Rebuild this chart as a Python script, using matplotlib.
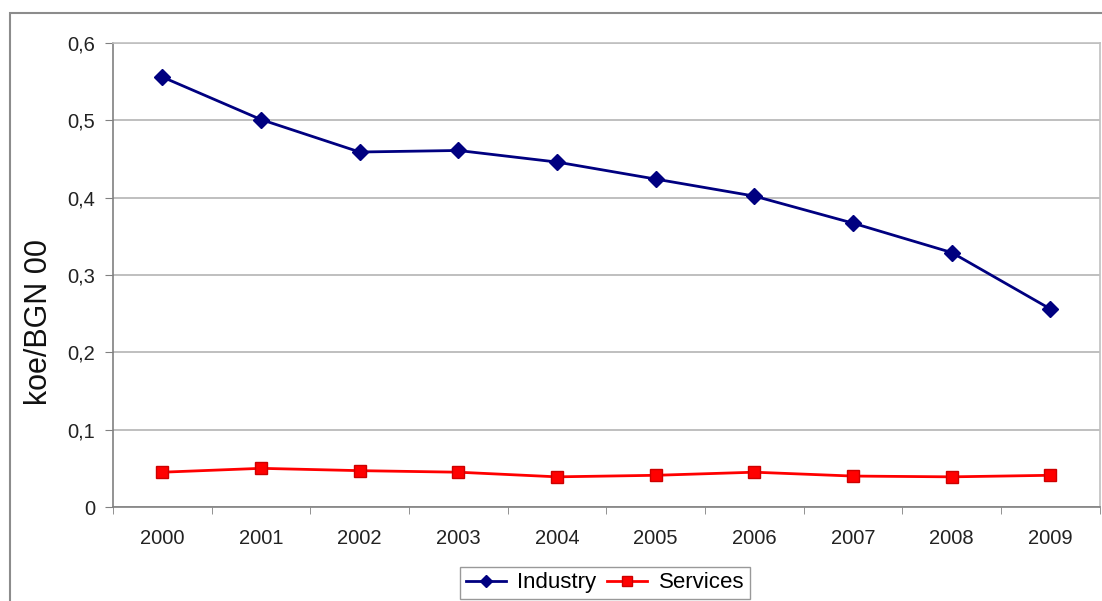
import matplotlib.pyplot as plt
from matplotlib.patches import Rectangle

plt.rcParams['font.family'] = ['Liberation Sans', 'DejaVu Sans']

years = ['2000', '2001', '2002', '2003', '2004', '2005', '2006', '2007', '2008', '2009']
industry = [0.556, 0.501, 0.459, 0.461, 0.446, 0.424, 0.402, 0.367, 0.329, 0.256]
services = [0.045, 0.050, 0.047, 0.045, 0.039, 0.041, 0.045, 0.040, 0.039, 0.041]
y_ticks = [0, 0.1, 0.2, 0.3, 0.4, 0.5, 0.6]
y_labels = ['0', '0,1', '0,2', '0,3', '0,4', '0,5', '0,6']

fig = plt.figure(figsize=(11.02, 6.01), dpi=100)
# outer chart border
fig.patches.append(Rectangle((10 / 1102, -0.1), 1.2, (601 - 13) / 601 + 0.1,
                             transform=fig.transFigure, fill=False,
                             edgecolor='#8c8c8c', linewidth=1.5))

ax = fig.add_axes([0.1025, 0.1564, 0.8955, 0.7721])
x = list(range(len(years)))

ax.plot(x, industry, color='#000080', linewidth=2, marker='D', markersize=8,
        markerfacecolor='#000080', markeredgecolor='#000080', label='Industry')
ax.plot(x, services, color='#ff0000', linewidth=2, marker='s', markersize=9,
        markerfacecolor='#ff0000', markeredgecolor='#cc0000', label='Services')

ax.set_xlim(-0.5, len(years) - 0.5)
ax.set_ylim(0, 0.6)
ax.set_yticks(y_ticks)
ax.set_yticklabels(y_labels)
ax.set_xticks(x)
ax.set_xticklabels(years)
ax.set_xticks([i - 0.5 for i in range(len(years) + 1)], minor=True)
ax.tick_params(axis='x', which='major', length=0, pad=16, labelsize=14.5, colors='#222222')
ax.tick_params(axis='x', which='minor', length=5, color='#808080')
ax.tick_params(axis='y', length=6, color='#808080', labelsize=14.5, pad=7, colors='#222222')

ax.grid(axis='y', color='#b4b4b4', linewidth=1.2)
ax.set_axisbelow(True)
for side in ['left', 'bottom']:
    ax.spines[side].set_color('#808080')
    ax.spines[side].set_linewidth(1.2)
for side in ['top', 'right']:
    ax.spines[side].set_color('#c0c0c0')
    ax.spines[side].set_linewidth(1.2)

fig.text(39 / 1102, (601 - 322) / 601, 'koe/BGN 00', rotation=90, fontsize=22,
         ha='center', va='center', color='#111111')

leg = fig.legend(loc='center', bbox_to_anchor=(0.549, 0.030), ncol=2, fontsize=16,
                 frameon=True, fancybox=False, handlelength=1.8, columnspacing=0.5,
                 handletextpad=0.5, borderpad=0.25, markerscale=0.75)
leg.get_frame().set_edgecolor('#808080')
leg.get_frame().set_linewidth(1.0)

fig.savefig('out.png', dpi=100)
